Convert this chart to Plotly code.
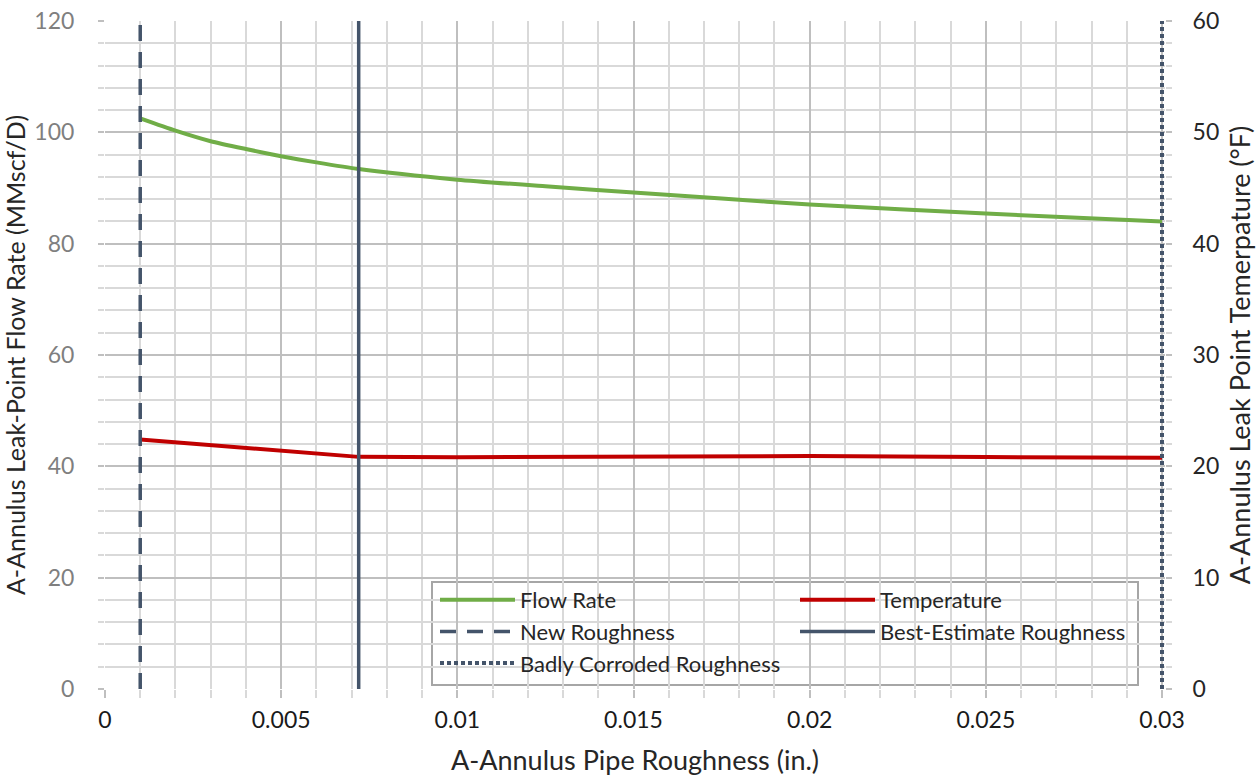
import plotly.graph_objects as go

# Pipe roughness (in.) at which the leak point was evaluated
roughness = [0.001, 0.002, 0.003, 0.004, 0.005, 0.006, 0.0072, 0.01,
             0.0125, 0.015, 0.0175, 0.02, 0.025, 0.03]
# Leak-point flow rate (MMscf/D)
flow_rate = [102.5, 100.3, 98.4, 97.0, 95.7, 94.6, 93.4, 91.5,
             90.3, 89.2, 88.1, 87.05, 85.4, 84.0]
# Leak-point temperature (°F)
temperature = [22.4, 22.15, 21.9, 21.65, 21.4, 21.15, 20.85, 20.82,
               20.84, 20.87, 20.92, 20.92, 20.83, 20.76]

# Reference roughness values (in.)
new_roughness = 0.001
best_estimate_roughness = 0.0072
badly_corroded_roughness = 0.03

x_tickvals = [0, 0.005, 0.01, 0.015, 0.02, 0.025, 0.03]
x_ticktext = ["0", "0.005", "0.01", "0.015", "0.02", "0.025", "0.03"]
y_tickvals = [0, 20, 40, 60, 80, 100, 120]
y2_tickvals = [0, 10, 20, 30, 40, 50, 60]

GREEN = "#70AD47"
RED = "#C00000"
SLATE = "#44546A"
MAJOR_GRID = "#BFBFBF"
MINOR_GRID = "#D9D9D9"
FONT = "Lato"

# Plot area: 0.03 sits at the right edge; the range is padded by a couple of
# pixels so the marker line drawn there is not cut in half by the clip box.
PLOT_L, PLOT_R, PLOT_T, PLOT_B = 105, 1162, 21, 689
EDGE_PAD_PX = 3
x_per_px = 0.03 / (PLOT_R - PLOT_L)
x_max = 0.03 + EDGE_PAD_PX * x_per_px
plot_w = PLOT_R + EDGE_PAD_PX - PLOT_L
plot_h = PLOT_B - PLOT_T

fig = go.Figure()

fig.add_trace(go.Scatter(
    x=roughness, y=flow_rate, name="Flow Rate", mode="lines",
    line=dict(color=GREEN, width=4, shape="spline", smoothing=0.6),
))
fig.add_trace(go.Scatter(
    x=roughness, y=temperature, name="Temperature", mode="lines",
    line=dict(color=RED, width=4), yaxis="y2",
))

# Vertical roughness markers span the full plot height
for xv, label, dash, w in [
    (new_roughness, "New Roughness", "16px,11px", 3.5),
    (best_estimate_roughness, "Best-Estimate Roughness", "solid", 3.5),
    (badly_corroded_roughness, "Badly Corroded Roughness", "4px,3px", 4),
]:
    fig.add_shape(
        type="line", xref="x", yref="y domain",
        x0=xv, x1=xv, y0=0, y1=1,
        line=dict(color=SLATE, width=w, dash=dash),
        showlegend=True, name=label, layer="above",
    )

# Legend frame
fig.add_shape(
    type="rect", xref="paper", yref="paper",
    x0=(432 - PLOT_L) / plot_w, x1=(1138 - PLOT_L) / plot_w,
    y0=(PLOT_B - 685) / plot_h, y1=(PLOT_B - 582) / plot_h,
    line=dict(color="#A6A6A6", width=2), fillcolor="white", layer="between",
)

fig.update_layout(
    width=1259, height=776,
    margin=dict(l=PLOT_L, r=1259 - PLOT_R - EDGE_PAD_PX, t=PLOT_T, b=776 - PLOT_B),
    paper_bgcolor="white", plot_bgcolor="white",
    font=dict(family=FONT, size=22, color="#262626"),
    showlegend=True,
    legend=dict(
        orientation="h", x=(435 - PLOT_L) / plot_w, y=(PLOT_B - 579) / plot_h,
        xanchor="left", yanchor="top",
        bgcolor="rgba(0,0,0,0)", borderwidth=0,
        font=dict(family=FONT, size=22, color="#262626"),
        entrywidth=270, itemwidth=75, traceorder="normal",
    ),
    xaxis=dict(
        range=[0, x_max], tickvals=x_tickvals, ticktext=x_ticktext,
        showgrid=True, gridcolor=MAJOR_GRID, gridwidth=2,
        zeroline=False, showline=False, automargin=False,
        ticks="outside", ticklen=8, tickcolor=MAJOR_GRID, tickwidth=2,
        minor=dict(dtick=0.001, showgrid=True, gridcolor=MINOR_GRID,
                   gridwidth=2, ticks="outside", ticklen=8,
                   tickcolor=MINOR_GRID, tickwidth=2),
        tickfont=dict(size=23, color="#1A1A1A"),
        ticklabelstandoff=2,
        title=dict(text="A-Annulus Pipe Roughness (in.)",
                   font=dict(size=27, color="#262626"), standoff=20),
    ),
    yaxis=dict(
        range=[0, 120], tickvals=y_tickvals,
        showgrid=True, gridcolor=MAJOR_GRID, gridwidth=2,
        zeroline=False, showline=False, automargin=False,
        ticks="outside", ticklen=6, tickcolor=MAJOR_GRID, tickwidth=2,
        minor=dict(dtick=4, showgrid=True, gridcolor=MINOR_GRID,
                   gridwidth=2, ticks="outside", ticklen=6,
                   tickcolor=MINOR_GRID, tickwidth=2),
        tickfont=dict(size=23, color="#7F7F7F"),
        ticklabelstandoff=19,
        title=dict(text="A-Annulus Leak-Point Flow Rate (MMscf/D)",
                   font=dict(size=25, color="#262626"), standoff=11),
    ),
    yaxis2=dict(
        range=[0, 60], tickvals=y2_tickvals, overlaying="y", side="right",
        showgrid=False, zeroline=False, showline=False, automargin=False,
        ticks="outside", ticklen=6, tickcolor=MAJOR_GRID, tickwidth=2,
        minor=dict(dtick=2, ticks="outside", ticklen=6,
                   tickcolor=MINOR_GRID, tickwidth=2),
        tickfont=dict(size=23, color="#262626"),
        ticklabelstandoff=16,
        title=dict(text="A-Annulus Leak Point Temerpature (°F)",
                   font=dict(size=27, color="#262626"), standoff=12),
    ),
)

fig.write_html("out.html")
